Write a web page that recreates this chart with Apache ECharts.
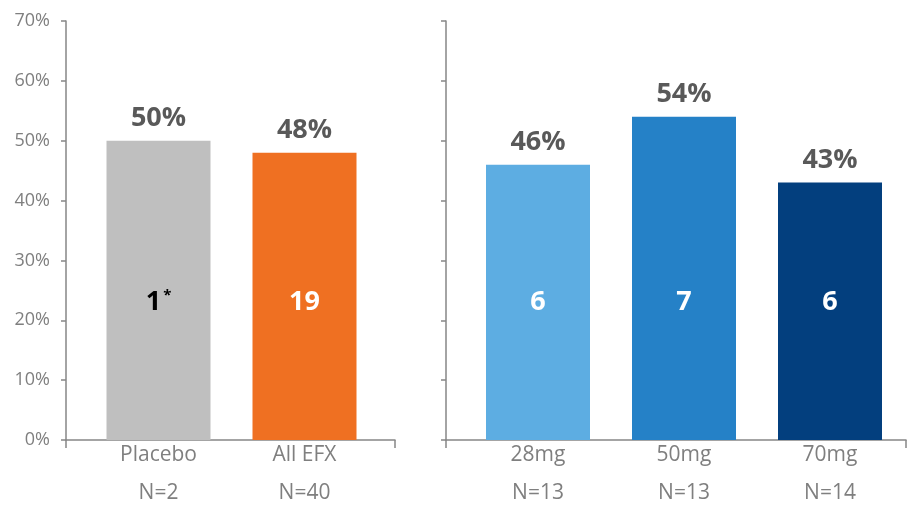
<!DOCTYPE html>
<html>
<head>
<meta charset="utf-8">
<script src="https://cdn.jsdelivr.net/npm/echarts@6/dist/echarts.min.js"></script>
<style>
  html, body { margin: 0; padding: 0; background: #ffffff; }
  #chart { width: 908px; height: 505px; }
</style>
</head>
<body>
<div id="chart"></div>
<script>
// Response rate by group (percent of patients) and responder counts
const leftCategories = ['Placebo', 'All EFX'];
const leftN = ['N=2', 'N=40'];
const leftPct = [50, 48];
const leftCounts = [1, 19];
const leftNotes = ['*', ''];
const leftColors = ['#BFBFBF', '#EF7022'];
const leftCountColors = ['#000000', '#ffffff'];

const rightCategories = ['28mg', '50mg', '70mg'];
const rightN = ['N=13', 'N=13', 'N=14'];
const rightPct = [46, 54, 43];
const rightCounts = [6, 7, 6];
const rightNotes = ['', '', ''];
const rightColors = ['#5DADE2', '#2581C7', '#033F7E'];
const rightCountColors = ['#ffffff', '#ffffff', '#ffffff'];

const yTicks = { min: 0, max: 70, interval: 10 };

const FONT = '"Open Sans", sans-serif';
const AXIS_COLOR = '#868686';
const TEXT_GRAY = '#7F7F7F';
const VALUE_GRAY = '#595959';

const TOP = 21, BOTTOM = 65, HEIGHT = 505 - TOP - BOTTOM;

function pctSeries(xIdx, values, colors) {
  return {
    type: 'bar', xAxisIndex: xIdx, yAxisIndex: xIdx,
    barWidth: 104,
    data: values.map((v, i) => ({ value: v, itemStyle: { color: colors[i] } })),
    label: {
      show: true, position: 'top', distance: 9,
      formatter: '{c}%',
      fontFamily: FONT, fontSize: 27, fontWeight: 'bold', color: VALUE_GRAY
    },
    silent: true
  };
}

function countSeries(xIdx, values, counts, notes, colors) {
  return {
    type: 'bar', xAxisIndex: xIdx, yAxisIndex: xIdx,
    barWidth: 104, barGap: '-100%',
    itemStyle: { color: 'rgba(0,0,0,0)' },
    data: values.map((v, i) => ({
      value: v,
      label: {
        rich: {
          n: { fontFamily: FONT, fontSize: 27, fontWeight: 'bold', color: colors[i], lineHeight: 28 },
          s: { fontFamily: FONT, fontSize: 15, fontWeight: 'bold', color: colors[i], verticalAlign: 'top', lineHeight: 28, padding: [0, 0, 10, 2] }
        }
      }
    })),
    label: {
      show: true, position: 'insideBottom', distance: 124,
      formatter: p => notes[p.dataIndex] ? '{n|' + counts[p.dataIndex] + '}{s|' + notes[p.dataIndex] + '}' : '{n|' + counts[p.dataIndex] + '}'
    },
    silent: true
  };
}

function categoryAxis(gridIdx, cats, ns) {
  return {
    type: 'category', gridIndex: gridIdx, data: cats,
    axisLine: { show: false }, axisTick: { show: false },
    axisLabel: {
      margin: -4, interval: 0,
      formatter: (v, i) => v + '\n' + ns[i],
      fontFamily: FONT, fontSize: 21, color: TEXT_GRAY, lineHeight: 38
    }
  };
}

function frameXAxis(gridIdx) {
  return {
    type: 'value', gridIndex: gridIdx, min: 0, max: 1, interval: 1,
    axisLine: { show: true, lineStyle: { color: AXIS_COLOR, width: 1.5 } },
    axisTick: { show: true, inside: false, length: 8, lineStyle: { color: AXIS_COLOR, width: 1.5 } },
    axisLabel: { show: false }, splitLine: { show: false }
  };
}

function frameYAxis(gridIdx, showLabels) {
  return {
    type: 'value', gridIndex: gridIdx, min: yTicks.min, max: yTicks.max, interval: yTicks.interval,
    axisLine: { show: true, lineStyle: { color: AXIS_COLOR, width: 1.5 } },
    axisTick: { show: true, length: 5, lineStyle: { color: AXIS_COLOR, width: 1.5 } },
    axisLabel: { show: showLabels, formatter: '{value}%', margin: 16, fontFamily: FONT, fontSize: 18, color: TEXT_GRAY },
    splitLine: { show: false }
  };
}

function hiddenYAxis(gridIdx) {
  return { type: 'value', gridIndex: gridIdx, min: yTicks.min, max: yTicks.max, interval: yTicks.interval, show: false };
}

function panel(left, width) {
  return { left: left, width: width, top: TOP, height: HEIGHT, outerBoundsMode: 'none', containLabel: false };
}

const chart = echarts.init(document.getElementById('chart'), null, { renderer: 'canvas' });
chart.setOption({
  animation: false,
  backgroundColor: '#ffffff',
  grid: [
    // bar panels
    panel(85.5, 292),
    panel(465, 438),
    // axis frames
    panel(66, 329),
    panel(446, 460)
  ],
  xAxis: [
    categoryAxis(0, leftCategories, leftN),
    categoryAxis(1, rightCategories, rightN),
    frameXAxis(2),
    frameXAxis(3)
  ],
  yAxis: [
    hiddenYAxis(0),
    hiddenYAxis(1),
    frameYAxis(2, true),
    frameYAxis(3, false)
  ],
  series: [
    pctSeries(0, leftPct, leftColors),
    countSeries(0, leftPct, leftCounts, leftNotes, leftCountColors),
    pctSeries(1, rightPct, rightColors),
    countSeries(1, rightPct, rightCounts, rightNotes, rightCountColors)
  ]
});
</script>
</body>
</html>
